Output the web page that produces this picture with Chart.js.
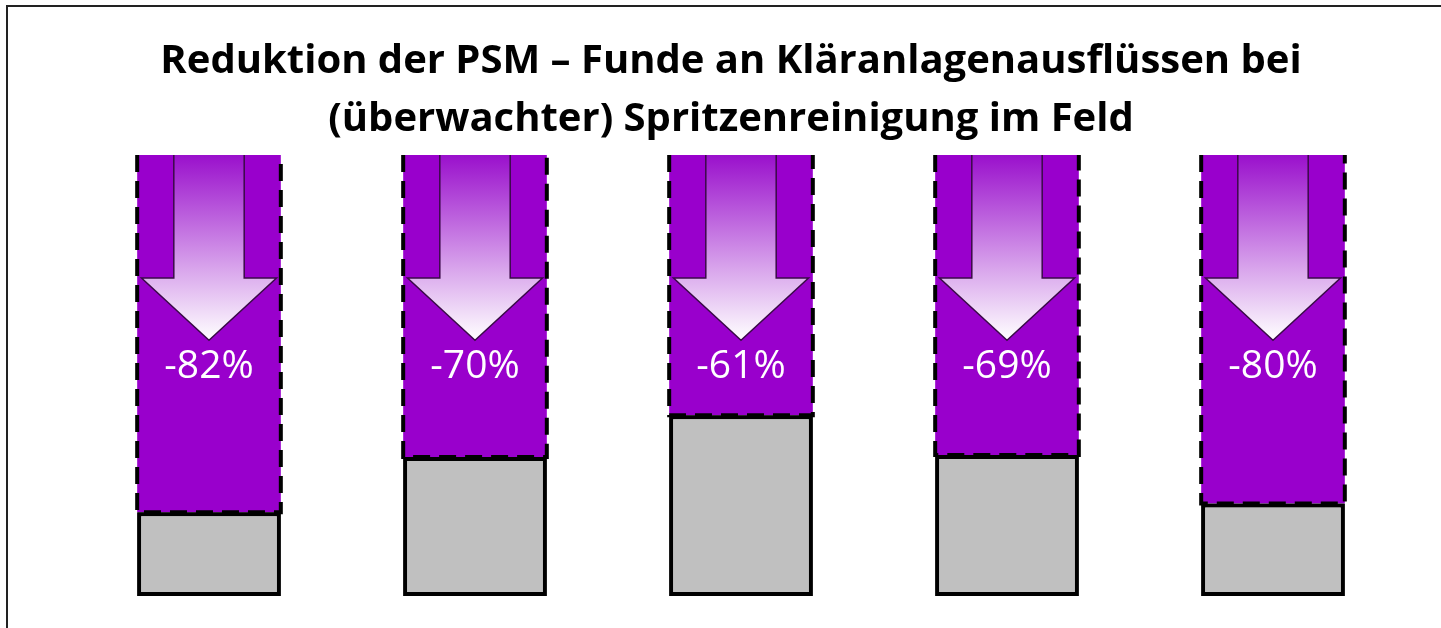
<!DOCTYPE html>
<html>
<head>
<meta charset="utf-8">
<script src="https://cdn.jsdelivr.net/npm/chart.js@4"></script>
<style>
    body { margin: 0; background: #fff; }
    #wrap { width: 1441px; height: 628px; }
</style>
</head>
<body>
<div id="wrap"><canvas id="psmChart" width="1441" height="628"></canvas></div>
<script>
// Data
const categories = ['A', 'B', 'C', 'D', 'E'];
const remaining = [19, 31.5, 41, 32, 21];          // grey part (after cleaning)
const reduced = [81, 68.5, 59, 68, 79];            // purple part (removed)
const reductionLabels = ['-82%', '-70%', '-61%', '-69%', '-80%'];
// trailing en space nudges the centred title a bit to the left, like on the slide
const titleLines = ['Reduktion der PSM \u2013 Funde an Kläranlagenausflüssen bei\u2002', '(überwachter) Spritzenreinigung im Feld\u2002'];

const PURPLE = '#9900cc';

// Frame: only top and left lines like in the slide
const framePlugin = {
    id: 'frame',
    afterDraw(chart) {
        const ctx = chart.ctx;
        ctx.save();
        ctx.strokeStyle = '#222';
        ctx.lineWidth = 2;
        ctx.beginPath();
        ctx.moveTo(7, chart.height);
        ctx.lineTo(7, 6);
        ctx.lineTo(chart.width, 6);
        ctx.stroke();
        ctx.restore();
    }
};

// Dashed border, arrow and percentage on the purple bars
const arrowPlugin = {
    id: 'arrows',
    afterDatasetsDraw(chart) {
        const ctx = chart.ctx;
        const meta = chart.getDatasetMeta(1);
        const zero = chart.scales.y.getPixelForValue(0);
        meta.data.forEach((bar, i) => {
            const { x, y, base, width } = bar.getProps(['x', 'y', 'base', 'width'], true);
            const left = x - width / 2, right = x + width / 2;
            const h = zero - y; // whole column height
            const shaftW = width * 0.245;
            const headW = width * 0.47;
            const shaftBottom = y + h * 0.279;
            const tip = y + h * 0.42;

            ctx.save();
            // arrow
            const grad = ctx.createLinearGradient(0, y, 0, tip);
            grad.addColorStop(0, '#9a10cc');
            grad.addColorStop(0.62, '#d9a6ec');
            grad.addColorStop(1, '#ffffff');
            ctx.beginPath();
            ctx.moveTo(x - shaftW, y);
            ctx.lineTo(x - shaftW, shaftBottom);
            ctx.lineTo(x - headW, shaftBottom);
            ctx.lineTo(x, tip);
            ctx.lineTo(x + headW, shaftBottom);
            ctx.lineTo(x + shaftW, shaftBottom);
            ctx.lineTo(x + shaftW, y);
            ctx.fillStyle = grad;
            ctx.fill();
            ctx.strokeStyle = '#3a0a48';
            ctx.lineWidth = 1.5;
            ctx.stroke();

            // dashed border (left, bottom, right)
            ctx.strokeStyle = '#000';
            ctx.lineWidth = 4;
            ctx.setLineDash([17, 9]);
            ctx.beginPath();
            ctx.moveTo(left, y);
            ctx.lineTo(left, base);
            ctx.lineTo(right, base);
            ctx.lineTo(right, y);
            ctx.stroke();
            ctx.setLineDash([]);

            // percentage
            ctx.fillStyle = '#fff';
            ctx.font = '39px "Open Sans"';
            ctx.textAlign = 'center';
            ctx.textBaseline = 'middle';
            ctx.fillText(reductionLabels[i], x, y + h * 0.48);
            ctx.restore();
        });
        // redraw the grey bars so their solid border sits on top
        chart.getDatasetMeta(0).data.forEach(el => el.draw(ctx));
    }
};

const ctx = document.getElementById('psmChart').getContext('2d');
new Chart(ctx, {
    type: 'bar',
    data: {
        labels: categories,
        datasets: [{
            label: 'verbleibend',
            data: remaining,
            backgroundColor: '#c0c0c0',
            borderColor: '#000',
            borderWidth: 4,
            borderSkipped: false,
            categoryPercentage: 1,
            barPercentage: 0.54
        }, {
            label: 'Reduktion',
            data: reduced,
            backgroundColor: PURPLE,
            borderWidth: 0,
            categoryPercentage: 1,
            barPercentage: 0.54
        }]
    },
    options: {
        responsive: false,
        animation: false,
        layout: { padding: { top: 0, bottom: 32, left: 76, right: 35 } },
        scales: {
            x: { stacked: true, display: false },
            y: { stacked: true, display: false, min: 0, max: 100 }
        },
        plugins: {
            legend: { display: false },
            tooltip: { enabled: false },
            title: {
                display: true,
                text: titleLines,
                color: '#000',
                font: { family: '"Open Sans"', size: 40, weight: 'bold', lineHeight: 1.45 },
                padding: { top: 33, bottom: 6 }
            }
        }
    },
    plugins: [framePlugin, arrowPlugin]
});
</script>
</body>
</html>
